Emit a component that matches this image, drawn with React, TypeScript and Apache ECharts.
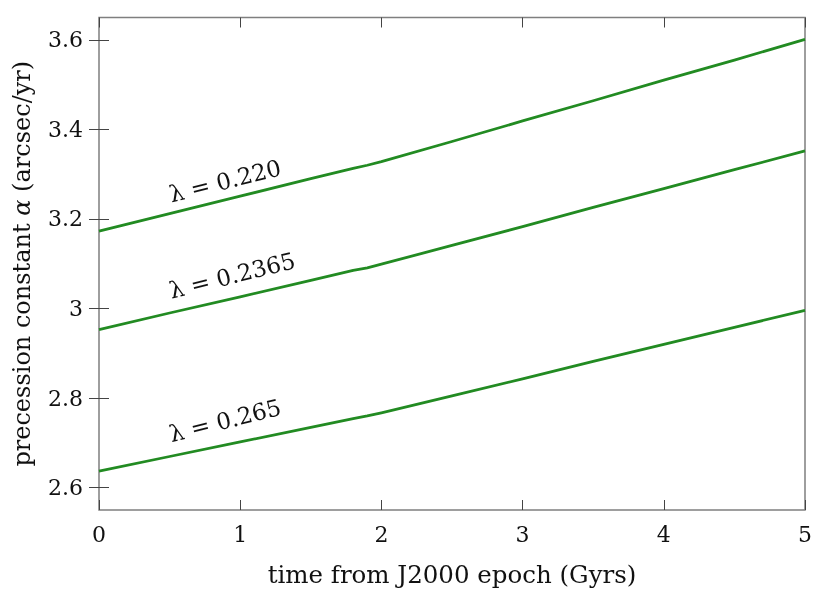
import React, { useEffect, useRef } from "react";
import * as echarts from "echarts";

const timeGyr = [0, 0.5, 1, 1.5, 1.8, 1.9, 2.0, 2.5, 3, 3.5, 4, 4.5, 5];
const alpha220 = [3.173, 3.212, 3.251, 3.290, 3.313, 3.320, 3.328, 3.373, 3.419, 3.464, 3.510, 3.555, 3.601];
const alpha2365 = [2.953, 2.990, 3.026, 3.063, 3.085, 3.091, 3.099, 3.141, 3.183, 3.226, 3.268, 3.310, 3.352];
const alpha265 = [2.637, 2.6695, 2.702, 2.7345, 2.754, 2.760, 2.767, 2.805, 2.843, 2.882, 2.920, 2.958, 2.996];
const yTicks = [2.6, 2.8, 3.0, 3.2, 3.4, 3.6];
const xTicks = [0, 1, 2, 3, 4, 5];
const curveLabels = [
  { text: "λ = 0.220", x: 0.52, y: 3.229 },
  { text: "λ = 0.2365", x: 0.52, y: 3.014 },
  { text: "λ = 0.265", x: 0.52, y: 2.694 },
];

const FONT = "DejaVu Serif";
const GREEN = "#228B22";
const FRAME = "#7f7f7f";

export default function App() {
  const ref = useRef<HTMLDivElement>(null);
  useEffect(() => {
    if (!ref.current) return;
    const chart = echarts.init(ref.current, null, { renderer: "svg" });
    const mk = (vals: number[]) => timeGyr.map((t, i) => [t, vals[i]]);
    const lineSeries = [alpha220, alpha2365, alpha265].map((v) => ({
      type: "line",
      data: mk(v),
      showSymbol: false,
      smooth: false,
      lineStyle: { color: GREEN, width: 2.8, join: "round" },
      xAxisIndex: 0,
      yAxisIndex: 0,
    }));
    const tickStyle = { show: true, inside: true, length: 10, lineStyle: { color: "#444", width: 1 } };
    chart.setOption({
      animation: false,
      grid: {
        left: 99,
        right: 25,
        top: 17.5,
        bottom: 83,
        show: true,
        borderColor: FRAME,
        borderWidth: 1.5,
        backgroundColor: "transparent",
      },
      xAxis: [
        {
          type: "value",
          min: 0,
          max: 5,
          interval: 1,
          position: "bottom",
          axisLine: { show: false },
          axisTick: { ...tickStyle, customValues: xTicks },
          splitLine: { show: false },
          axisLabel: { customValues: xTicks, fontFamily: FONT, fontSize: 22, color: "#111", margin: 13 },
          name: "time from J2000 epoch (Gyrs)",
          nameLocation: "middle",
          nameGap: 52,
          nameTextStyle: { fontFamily: FONT, fontSize: 24.5, color: "#111" },
        },
        {
          type: "value",
          min: 0,
          max: 5,
          interval: 1,
          position: "top",
          axisLine: { show: false },
          axisTick: { ...tickStyle, customValues: xTicks },
          splitLine: { show: false },
          axisLabel: { show: false },
        },
      ],
      yAxis: [
        {
          type: "value",
          min: 2.55,
          max: 3.65,
          position: "left",
          axisLine: { show: false },
          axisTick: { ...tickStyle, customValues: yTicks },
          splitLine: { show: false },
          axisLabel: {
            customValues: yTicks,
            fontFamily: FONT,
            fontSize: 22,
            color: "#111",
            margin: 16,
            formatter: (v: number) => String(Math.round(v * 10) / 10),
          },
          name: "precession constant {a|α} (arcsec/yr)",
          nameLocation: "middle",
          nameRotate: 90,
          nameGap: 65,
          nameTextStyle: {
            fontFamily: FONT,
            fontSize: 24,
            color: "#111",
            rich: { a: { fontFamily: FONT, fontSize: 24, fontStyle: "italic", color: "#111" } },
          },
        },
        {
          type: "value",
          min: 2.55,
          max: 3.65,
          position: "right",
          axisLine: { show: false },
          axisTick: { ...tickStyle, customValues: yTicks },
          splitLine: { show: false },
          axisLabel: { show: false },
        },
      ],
      series: lineSeries,
    });
    const graphic = curveLabels.map((l) => {
      const p = chart.convertToPixel({ gridIndex: 0 }, [l.x, l.y]) as number[];
      return {
        type: "text",
        x: p[0],
        y: p[1],
        rotation: (14 * Math.PI) / 180,
        style: {
          text: l.text,
          fontFamily: FONT,
          fontSize: 23,
          fill: "#111",
          textAlign: "left",
          textVerticalAlign: "bottom",
        },
      };
    });
    chart.setOption({ graphic });
    return () => chart.dispose();
  }, []);
  return (
    <div
      ref={ref}
      style={{ position: "fixed", left: 0, top: 0, width: 830, height: 593 }}
    />
  );
}
